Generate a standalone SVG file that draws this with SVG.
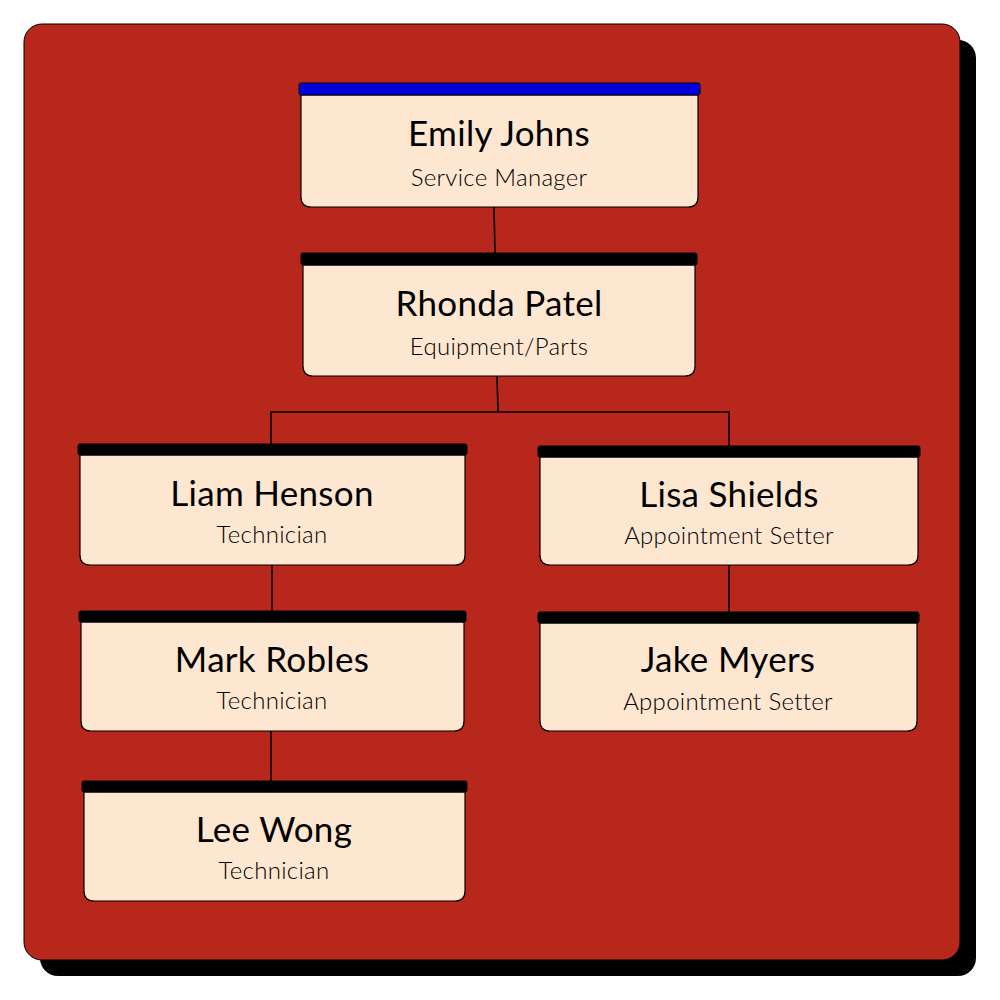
<svg xmlns="http://www.w3.org/2000/svg" width="1000" height="1000" viewBox="0 0 1000 1000">
<style>
.box{fill:#fee7d1;stroke:#000;stroke-width:1.2}
.bar{fill:#000;stroke:#000;stroke-width:1}
.bar.blue{fill:#0000dd}
.name{font-family:Lato,"Noto Sans",sans-serif;font-size:35px;fill:#000;text-anchor:middle;letter-spacing:0.3px}
.role{font-family:Lato,"Noto Sans",sans-serif;font-size:24px;font-weight:300;fill:#000;text-anchor:middle;letter-spacing:0.3px}
.conn{fill:none;stroke:#000;stroke-width:1.6}
</style>
<rect x="40" y="40" width="936" height="936" rx="18" fill="#000"/>
<rect x="24" y="24" width="936" height="936" rx="18" fill="#b8271b" stroke="#000" stroke-width="1"/>
<g id="connectors">
<path class="conn" d="M494,207 L495,254"/>
<path class="conn" d="M497,376 L498,412"/>
<path class="conn" d="M271,445 L271,412 L729,412 L729,447"/>
<path class="conn" d="M272,565 L272,612"/>
<path class="conn" d="M271,731 L271,782"/>
<path class="conn" d="M729,565 L729,613"/>
</g>
<g id="emily">
<path class="box" d="M301,95 H698 V197 Q698,207 688,207 H311 Q301,207 301,197 Z"/>
<rect class="bar blue" x="299" y="83" width="401" height="12" rx="2"/>
<text class="name" x="499" y="146">Emily Johns</text>
<text class="role" x="499" y="186">Service Manager</text>
</g>
<g id="rhonda">
<path class="box" d="M303,265 H695 V366 Q695,376 685,376 H313 Q303,376 303,366 Z"/>
<rect class="bar" x="301" y="253" width="396" height="12" rx="2"/>
<text class="name" x="499" y="316">Rhonda Patel</text>
<text class="role" x="499" y="355">Equipment/Parts</text>
</g>
<g id="liam">
<path class="box" d="M80,455 H465 V555 Q465,565 455,565 H90 Q80,565 80,555 Z"/>
<rect class="bar" x="78" y="444" width="389" height="11" rx="2"/>
<text class="name" x="272" y="506">Liam Henson</text>
<text class="role" x="272" y="543">Technician</text>
</g>
<g id="lisa">
<path class="box" d="M540,457 H918 V555 Q918,565 908,565 H550 Q540,565 540,555 Z"/>
<rect class="bar" x="538" y="446" width="382" height="11" rx="2"/>
<text class="name" x="729" y="507">Lisa Shields</text>
<text class="role" x="729" y="544">Appointment Setter</text>
</g>
<g id="mark">
<path class="box" d="M81,622 H464 V721 Q464,731 454,731 H91 Q81,731 81,721 Z"/>
<rect class="bar" x="79" y="611" width="387" height="11" rx="2"/>
<text class="name" x="272" y="672">Mark Robles</text>
<text class="role" x="272" y="709">Technician</text>
</g>
<g id="jake">
<path class="box" d="M540,623 H917 V721 Q917,731 907,731 H550 Q540,731 540,721 Z"/>
<rect class="bar" x="538" y="612" width="381" height="11" rx="2"/>
<text class="name" x="728" y="672">Jake Myers</text>
<text class="role" x="728" y="710">Appointment Setter</text>
</g>
<g id="lee">
<path class="box" d="M84,792 H465 V891 Q465,901 455,901 H94 Q84,901 84,891 Z"/>
<rect class="bar" x="82" y="781" width="385" height="11" rx="2"/>
<text class="name" x="274" y="842">Lee Wong</text>
<text class="role" x="274" y="879">Technician</text>
</g>
</svg>
